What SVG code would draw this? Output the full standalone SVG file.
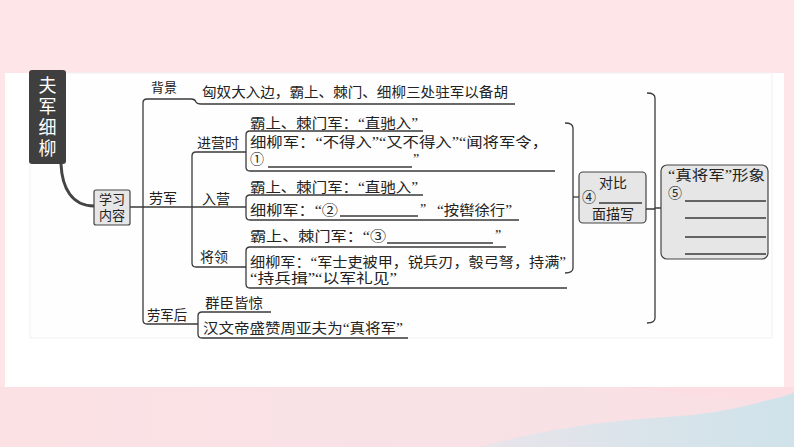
<svg xmlns="http://www.w3.org/2000/svg" width="794" height="447" viewBox="0 0 794 447">
<defs>
<style>
.t{font-family:"Liberation Serif","Noto Sans CJK SC",serif;font-size:14px;fill:#222}
.s{font-family:"Liberation Serif","Noto Sans CJK SC",serif;font-size:14px;fill:#222}
.ln{fill:none;stroke:#3a3a3a;stroke-width:1.3}
.box{fill:#e6e6e6;stroke:#444;stroke-width:1.2}
</style>
<linearGradient id="bg2" x1="0" y1="0" x2="1" y2="0">
<stop offset="0" stop-color="#fbe1e4"/>
<stop offset="0.6" stop-color="#f8e2e6"/>
<stop offset="1" stop-color="#f9dfe3"/>
</linearGradient>
<linearGradient id="blue" x1="0" y1="0" x2="1" y2="0">
<stop offset="0" stop-color="#e9e4ea"/>
<stop offset="0.5" stop-color="#dae4ea"/>
<stop offset="1" stop-color="#cfe2ea"/>
</linearGradient>
</defs>
<g id="background">
<rect x="0" y="0" width="794" height="447" fill="#fde5e8"/>
<rect x="0" y="387" width="794" height="60" fill="url(#bg2)"/>
<path d="M480 447 C560 425 620 420 680 416 C730 412 770 400 794 392 V447 Z" fill="url(#blue)"/>
<path d="M620 387 C680 392 720 400 760 400 C775 400 787 396 794 392 V387 Z" fill="#fbdde2"/>
<rect x="5" y="73" width="779" height="314" fill="#ffffff"/>
<rect x="30" y="73" width="742" height="265" fill="#fefefe" stroke="#f1f1f1" stroke-width="1"/>
</g>
<g id="connectors">
<path d="M61 164 C62 188 72 206 94 206" fill="none" stroke="#444" stroke-width="3"/>
<path class="ln" d="M130 207 H246"/>
<path class="ln" d="M143 320 V103 Q143 99 147 99 H191 Q195 99 196 102 Q197 104 201 104 H515"/>
<path class="ln" d="M143 320 Q143 324 147 324 H198"/>
<path class="ln" d="M246 152 H196 Q192 152 192 156 V263 Q192 267 196 267 H246"/>
<path class="ln" d="M423 131 H250 Q246 131 246 135 V167 Q246 171 250 171 H555"/>
<path class="ln" d="M423 195 H250 Q246 195 246 199 V216 Q246 220 250 220 H519"/>
<path class="ln" d="M506 247 H250 Q246 247 246 251 V284 Q246 288 250 288 H567"/>
<path class="ln" d="M271 312 H202 Q198 312 198 316 V334 Q198 338 202 338 H408"/>
<path class="ln" d="M565 123 Q573 123 573 128 V268 Q573 273 565 273"/>
<path class="ln" d="M573 197 H579"/>
<path class="ln" d="M647 93 Q655 93 655 98 V318 Q655 323 647 323"/>
<path class="ln" d="M646 209 H655 M655 208 H661"/>
</g>
<g id="title">
<rect x="29" y="70" width="37" height="94" rx="3" fill="#3f3f3f"/>
<text x="47.5" y="76" writing-mode="vertical-rl" font-family="'Noto Sans CJK SC','Noto Sans',sans-serif" font-size="18" letter-spacing="3" fill="#ffffff">夫军细柳</text>
</g>
<g id="node-xuexi">
<rect class="box" x="94" y="190" width="36" height="35" rx="2"/>
<text class="s" x="112" y="204" text-anchor="middle" style="font-size:13px">学习</text>
<text class="s" x="112" y="220" text-anchor="middle" style="font-size:13px">内容</text>
</g>
<g id="node-beijing">
<text class="s" x="151" y="92" style="font-size:13px">背景</text>
<text class="t" x="202" y="97" textLength="306" lengthAdjust="spacingAndGlyphs">匈奴大入边，霸上、棘门、细柳三处驻军以备胡</text>
</g>
<g id="node-laojun">
<text class="s" x="149" y="203">劳军</text>
</g>
<g id="node-jinyingshi">
<text class="s" x="197" y="148">进营时</text>
<text class="t" x="250" y="128" textLength="168" lengthAdjust="spacingAndGlyphs">霸上、棘门军：“直驰入”</text>
<text class="t" x="250" y="147" textLength="298" lengthAdjust="spacingAndGlyphs">细柳军：“不得入”“又不得入”“闻将军令，</text>
<text class="t" x="250" y="164">①</text>
<path class="ln" d="M268 167 H412"/>
<text class="t" x="413" y="164">”</text>
</g>
<g id="node-ruying">
<text class="s" x="202" y="204">入营</text>
<text class="t" x="250" y="192" textLength="168" lengthAdjust="spacingAndGlyphs">霸上、棘门军：“直驰入”</text>
<text class="t" x="250" y="215" textLength="88" lengthAdjust="spacingAndGlyphs">细柳军：“②</text>
<path class="ln" d="M340 216 H418"/>
<text class="t" x="420" y="214">”</text>
<text class="t" x="437" y="215" textLength="75" lengthAdjust="spacingAndGlyphs">“按辔徐行”</text>
</g>
<g id="node-jiangling">
<text class="s" x="200" y="262">将领</text>
<text class="t" x="250" y="241" textLength="136" lengthAdjust="spacingAndGlyphs">霸上、棘门军：“③</text>
<path class="ln" d="M387 243 H493"/>
<text class="t" x="495" y="240">”</text>
<text class="t" x="250" y="267" textLength="316" lengthAdjust="spacingAndGlyphs">细柳军：“军士吏被甲，锐兵刃，彀弓弩，持满”</text>
<text class="t" x="250" y="283" textLength="147" lengthAdjust="spacingAndGlyphs">“持兵揖”“以军礼见”</text>
</g>
<g id="node-laojunhou">
<text class="s" x="147" y="320" textLength="40" lengthAdjust="spacingAndGlyphs">劳军后</text>
<text class="t" x="205" y="308" textLength="58" lengthAdjust="spacingAndGlyphs">群臣皆惊</text>
<text class="t" x="203" y="333" textLength="200" lengthAdjust="spacingAndGlyphs">汉文帝盛赞周亚夫为“真将军”</text>
</g>
<g id="node-duibi">
<rect class="box" x="579" y="172" width="67" height="51" rx="4"/>
<text class="t" x="613" y="188" text-anchor="middle">对比</text>
<text class="t" x="582" y="202">④</text>
<path class="ln" d="M599 203 H642"/>
<text class="t" x="613" y="219" text-anchor="middle">面描写</text>
</g>
<g id="node-zhenjiangjun">
<rect class="box" x="661" y="165" width="107" height="94" rx="6"/>
<text class="t" x="668" y="180" textLength="97" lengthAdjust="spacingAndGlyphs">“真将军”形象</text>
<text class="t" x="668" y="198">⑤</text>
<path class="ln" d="M685 201 H766 M685 218 H766 M685 237 H766 M685 254 H766"/>
</g>
</svg>
